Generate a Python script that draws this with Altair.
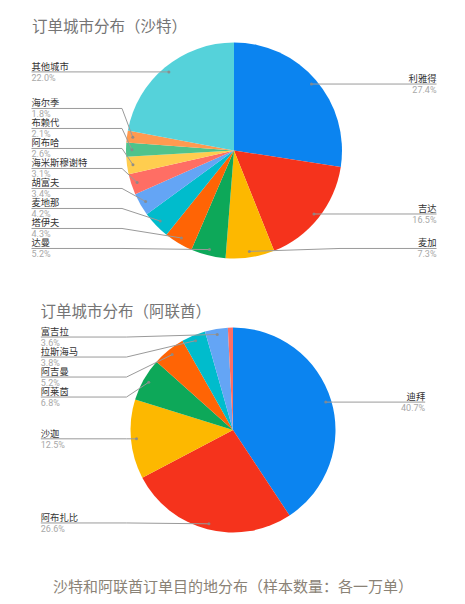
import math
import altair as alt
import pandas as pd

# ---------------- data ----------------
sa_title = "订单城市分布（沙特）"
sa_cities = ["利雅得", "吉达", "麦加", "达曼", "塔伊夫", "麦地那", "胡富夫",
             "海米斯穆谢特", "阿布哈", "布赖代", "海尔季", "其他城市"]
sa_values = [27.4, 16.5, 7.3, 5.2, 4.3, 4.2, 3.4, 3.1, 2.6, 2.1, 1.8, 22.0]

ae_title = "订单城市分布（阿联酋）"
ae_cities = ["迪拜", "阿布扎比", "沙迦", "阿莱茵", "阿吉曼", "拉斯海马", "富吉拉", "其他"]
ae_values = [40.7, 26.6, 12.5, 6.8, 5.2, 3.8, 3.6, 0.8]

caption = "沙特和阿联酋订单目的地分布（样本数量：各一万单）"

palette = ["#0b84f0", "#f5331c", "#fdb800", "#0da859", "#ff6405", "#00bccc",
           "#64a5f5", "#ff6e64", "#ffcd4f", "#4fc38c", "#ff9a50", "#55d2da"]

# ---------------- layout (chart pixel space, page minus 8px margin) ----------------
W, H = 449, 588
OFF = 8
CJK = "Noto Sans CJK SC"
LAB_FONT = 9.3
PCT_FONT = 9
GAP = 20
MIN_LABEL = 1.0


def build(cities, values, cx, cy, r):
    total = sum(values)
    rows = []
    cum = 0.0
    for i, (c, v) in enumerate(zip(cities, values)):
        mid = (cum + v / 2.0) / total * 2 * math.pi
        cum += v
        ax = cx + 0.945 * r * math.sin(mid)
        ay = cy - 0.945 * r * math.cos(mid)
        side = "R" if math.sin(mid) >= 0 else "L"
        rows.append(dict(idx=i, city=c, value=v, color=palette[i % len(palette)],
                         pct=f"{v:.1f}%", ax=ax, ay=ay, side=side,
                         labeled=v >= MIN_LABEL))
    lo, hi = cy - 0.907 * r, cy + 0.907 * r
    for side in ("L", "R"):
        grp = sorted([d for d in rows if d["labeled"] and d["side"] == side],
                     key=lambda d: d["ay"])
        for d in grp:
            d["ly"] = min(max(d["ay"], lo), hi)
        for k in range(1, len(grp)):
            grp[k]["ly"] = max(grp[k]["ly"], grp[k - 1]["ly"] + GAP)
        if grp:
            grp[-1]["ly"] = min(grp[-1]["ly"], hi)
        for k in range(len(grp) - 2, -1, -1):
            grp[k]["ly"] = min(grp[k]["ly"], grp[k + 1]["ly"] - GAP)
        for d in grp:
            if side == "L":
                d["ex"] = min(d["ax"], cx - r - 4)
                d["lx"] = cx - 1.875 * r
            else:
                d["ex"] = max(d["ax"], cx + r - 2)
                d["lx"] = cx + 1.875 * r
            d["ny"] = d["ly"] - 2
            d["py"] = d["ly"] + 8.8
    return pd.DataFrame(rows)


def pie_layers(cities, values, cx, cy, r, title, tx, ty):
    df = build(cities, values, cx, cy, r)
    lab = df[df["labeled"]].copy()
    arcs = alt.Chart(df).mark_arc(outerRadius=r).encode(
        theta=alt.Theta("value:Q", stack=True),
        order=alt.Order("idx:Q"),
        color=alt.Color("color:N", scale=None),
        x=alt.value(cx), y=alt.value(cy),
    )
    X = lambda f: alt.X(f, scale=None, axis=None)
    Y = lambda f: alt.Y(f, scale=None, axis=None)
    lb = alt.Chart(lab)
    seg1 = lb.mark_rule(color="#9a9a9a", strokeWidth=1).encode(
        x=X("ax:Q"), y=Y("ay:Q"), x2="ex", y2="ly")
    seg2 = lb.mark_rule(color="#9a9a9a", strokeWidth=1).encode(
        x=X("ex:Q"), y=Y("ly:Q"), x2="lx", y2="ly")
    dots = lb.mark_circle(size=9, color="#8a8a8a", opacity=0.9).encode(
        x=X("ax:Q"), y=Y("ay:Q"))
    layers = [arcs, seg1, seg2, dots]
    for side, al in (("L", "left"), ("R", "right")):
        sub = lb.transform_filter(alt.datum.side == side)
        layers.append(sub.mark_text(align=al, baseline="alphabetic", font=CJK,
                                    fontSize=LAB_FONT, color="#333333").encode(
            x=X("lx:Q"), y=Y("ny:Q"), text="city:N"))
        layers.append(sub.mark_text(align=al, baseline="alphabetic", font="Roboto",
                                    fontSize=PCT_FONT, color="#a8a8a8").encode(
            x=X("lx:Q"), y=Y("py:Q"), text="pct:N"))
    t = alt.Chart(pd.DataFrame({"t": [title]})).mark_text(
        align="left", baseline="alphabetic", font=CJK, fontSize=15.5,
        color="#757575").encode(text="t:N", x=alt.value(tx), y=alt.value(ty))
    layers.append(t)
    return layers


sa = pie_layers(sa_cities, sa_values, 234 - OFF, 150.5 - OFF, 108, sa_title,
                32 - OFF, 31.5 - OFF)
ae = pie_layers(ae_cities, ae_values, 233 - OFF, 430 - OFF, 102.5, ae_title,
                40.5 - OFF, 317 - OFF)

cap = alt.Chart(pd.DataFrame({"t": [caption]})).mark_text(
    align="center", baseline="alphabetic", font=CJK, fontSize=15,
    color="#8a8276").encode(text="t:N", x=alt.value(233 - OFF), y=alt.value(592 - OFF))

chart = alt.layer(*sa, *ae, cap).resolve_scale(theta="independent").properties(
    width=W, height=H, autosize="none", padding=0
).configure_view(stroke=None)

chart.save("out.html", embed_options={"renderer": "svg", "actions": False})
